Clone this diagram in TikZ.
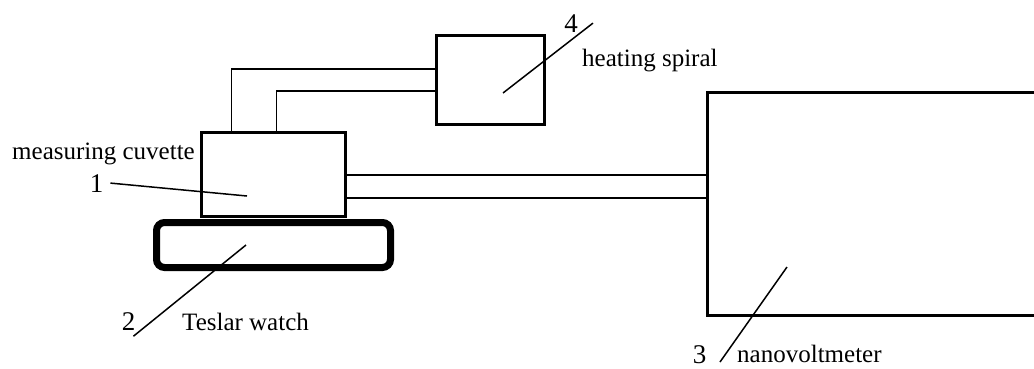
\documentclass[tikz,border=0pt]{standalone}
\usepackage{fontspec}
\setmainfont{Liberation Serif}
\usepackage{tikz}
\usetikzlibrary{positioning}
\tikzset{
  ap diagram/.style={x=1pt,y=-1pt,line join=miter},
  ap box/.style={draw,line width=3pt,inner sep=0pt},
  ap base/.style={draw,line width=7pt,rounded corners=8pt,inner sep=0pt},
  ap wire/.style={draw,line width=1.5pt},
  ap leader/.style={draw,line width=1.5pt},
  ap label/.style={font=\fontsize{25}{28}\selectfont,inner sep=0pt,anchor=base west},
  ap number/.style={font=\fontsize{27}{30}\selectfont,inner sep=0pt,anchor=base}
}
\begin{document}
\begin{tikzpicture}[ap diagram]
\useasboundingbox (0,0) rectangle (1034,368);
\node[ap box,minimum width=144pt,minimum height=84pt] (cuv) at (273.5,174.5) {};
\node[ap base,minimum width=234pt,minimum height=45pt] (tes) at (273.5,245) {};
\node[ap box,minimum width=108pt,minimum height=89pt] (heat) at (490.5,80) {};
\node[ap box,minimum width=402pt,minimum height=223pt] (nvm) at (908.5,204) {};
\draw[ap wire] ([xshift=31.5pt]cuv.north west) |- (heat.west |- 0,69);
\draw[ap wire] ([xshift=76.5pt]cuv.north west) |- (heat.west |- 0,91);
\draw[ap wire] (cuv.east |- 0,175) -- (nvm.west |- 0,175);
\draw[ap wire] (cuv.east |- 0,198) -- (nvm.west |- 0,198);
\node[ap number] (n1) at (96.5,192) {1};
\node[ap label] (lcuv) at (12,159) {measuring cuvette};
\node[ap number] (n2) at (128.5,330) {2};
\node[ap label] (ltes) at (182,330) {Teslar watch};
\node[ap number] (n3) at (699.5,363) {3};
\node[ap label] (lnvm) at (737,362) {nanovoltmeter};
\node[ap number] (n4) at (571,32) {4};
\node[ap label] (lheat) at (582,66) {heating spiral};
\coordinate (p1) at (247,196);
\coordinate (p2) at (246,245);
\coordinate (p3) at (787,267);
\coordinate (p4) at (503,93);
\draw[ap leader] ([xshift=7pt]n1.east) -- (p1);
\draw[ap leader] ([shift={(-2,6)}]n2.south east) -- (p2);
\draw[ap leader] ([xshift=-17pt]lnvm.base west) -- (p3);
\draw[ap leader] ([xshift=15pt]n4.east) -- (p4);
\end{tikzpicture}
\end{document}
